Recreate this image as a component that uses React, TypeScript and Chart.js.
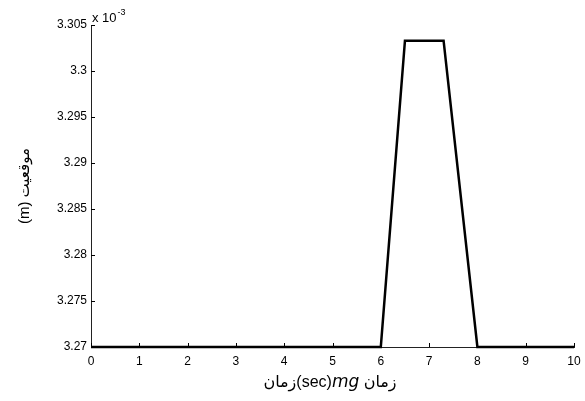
import { useEffect, useRef } from "react";
import { Chart, registerables } from "chart.js";

Chart.register(...registerables);

const timeValues = [0, 6, 6.5, 7.3, 8, 10];
const positionValues = [3.27, 3.27, 3.3033, 3.3033, 3.27, 3.27];
const xTickValues = [0, 1, 2, 3, 4, 5, 6, 7, 8, 9, 10];
const yTickValues = [3.27, 3.275, 3.28, 3.285, 3.29, 3.295, 3.3, 3.305];
const yTitle = "(m) موقعیت";
const xTitleParts = [
  { text: "زمان", italic: false },
  { text: "(sec)", italic: false },
  { text: "mg", italic: true },
  { text: " زمان", italic: false },
];
const exponentBase = "x 10";
const exponentPower = "-3";

const FONT = "'Liberation Sans', 'DejaVu Sans', sans-serif";

const decorPlugin = {
  id: "decor",
  afterDraw(chart: any) {
    const { ctx, chartArea, scales } = chart;
    const xs = scales.x;
    const ys = scales.y;
    ctx.save();
    ctx.strokeStyle = "#000";
    ctx.lineWidth = 1;
    // inward ticks
    xs.ticks.forEach((t: any) => {
      const px = Math.round(xs.getPixelForValue(t.value)) + 0.5;
      ctx.beginPath();
      ctx.moveTo(px, chartArea.bottom);
      ctx.lineTo(px, chartArea.bottom - 4);
      ctx.stroke();
    });
    ys.ticks.forEach((t: any) => {
      const py = Math.round(ys.getPixelForValue(t.value)) + 0.5;
      ctx.beginPath();
      ctx.moveTo(chartArea.left, py);
      ctx.lineTo(chartArea.left + 4, py);
      ctx.stroke();
    });
    // exponent label
    ctx.fillStyle = "#000";
    ctx.textBaseline = "alphabetic";
    ctx.textAlign = "left";
    ctx.font = `13px ${FONT}`;
    const ex = chartArea.left + 1;
    const ey = chartArea.top - 3;
    ctx.fillText(exponentBase, ex, ey);
    const w = ctx.measureText(exponentBase).width;
    ctx.font = `9px ${FONT}`;
    ctx.fillText(exponentPower, ex + w + 1, ey - 7);
    // x title
    const fonts = xTitleParts.map((p) =>
      p.italic ? `italic 17px 'DejaVu Sans', sans-serif` : `16px ${FONT}`
    );
    let total = 0;
    const widths = xTitleParts.map((p, i) => {
      ctx.font = fonts[i];
      const ww = ctx.measureText(p.text).width;
      total += ww;
      return ww;
    });
    let cx = 330 - total / 2;
    ctx.textBaseline = "middle";
    xTitleParts.forEach((p, i) => {
      ctx.font = fonts[i];
      ctx.fillText(p.text, cx, 383);
      cx += widths[i];
    });
    ctx.restore();
  },
};

export default function App() {
  const ref = useRef<HTMLCanvasElement | null>(null);
  useEffect(() => {
    document.body.style.margin = "0";
    if (!ref.current) return;
    const chart = new Chart(ref.current, {
      type: "line",
      data: {
        datasets: [
          {
            data: timeValues.map((t, i) => ({ x: t, y: positionValues[i] })),
            borderColor: "#000",
            borderWidth: 2.5,
            pointRadius: 0,
            tension: 0,
            fill: false,
            clip: false as any,
          },
        ],
      },
      options: {
        animation: false,
        responsive: false,
        maintainAspectRatio: false,
        layout: { padding: { left: 0, top: 25, right: 11, bottom: 0 } },
        plugins: {
          legend: { display: false },
          tooltip: { enabled: false },
        },
        scales: {
          x: {
            type: "linear",
            min: 0,
            max: 10,
            afterBuildTicks: (s: any) => {
              s.ticks = xTickValues.map((v) => ({ value: v }));
            },
            afterFit: (s: any) => {
              s.height = 54;
              s.paddingRight = 0;
              s.paddingLeft = 0;
            },
            grid: { display: false, drawTicks: false },
            border: { display: true, color: "#222", width: 1 },
            ticks: {
              color: "#000",
              font: { family: FONT, size: 12 },
              padding: 7,
              maxRotation: 0,
              autoSkip: false,
              callback: (v: any) => String(v),
            },
          },
          y: {
            type: "linear",
            min: 3.27,
            max: 3.305,
            afterBuildTicks: (s: any) => {
              s.ticks = yTickValues.map((v) => ({ value: v }));
            },
            afterFit: (s: any) => {
              s.width = 91;
              s.paddingTop = 0;
              s.paddingBottom = 0;
            },
            grid: { display: false, drawTicks: false },
            border: { display: true, color: "#222", width: 1 },
            title: {
              display: true,
              text: yTitle,
              color: "#000",
              font: { family: FONT, size: 15 },
              padding: { top: 16, bottom: 0 },
            },
            ticks: {
              color: "#000",
              font: { family: FONT, size: 12 },
              padding: 4,
              autoSkip: false,
              callback: (v: any) => String(parseFloat(Number(v).toFixed(3))),
            },
          },
        },
      },
      plugins: [decorPlugin],
    });
    return () => chart.destroy();
  }, []);
  return (
    <div style={{ width: 585, height: 401 }}>
      <canvas ref={ref} width={585} height={401} style={{ display: "block" }} />
    </div>
  );
}
